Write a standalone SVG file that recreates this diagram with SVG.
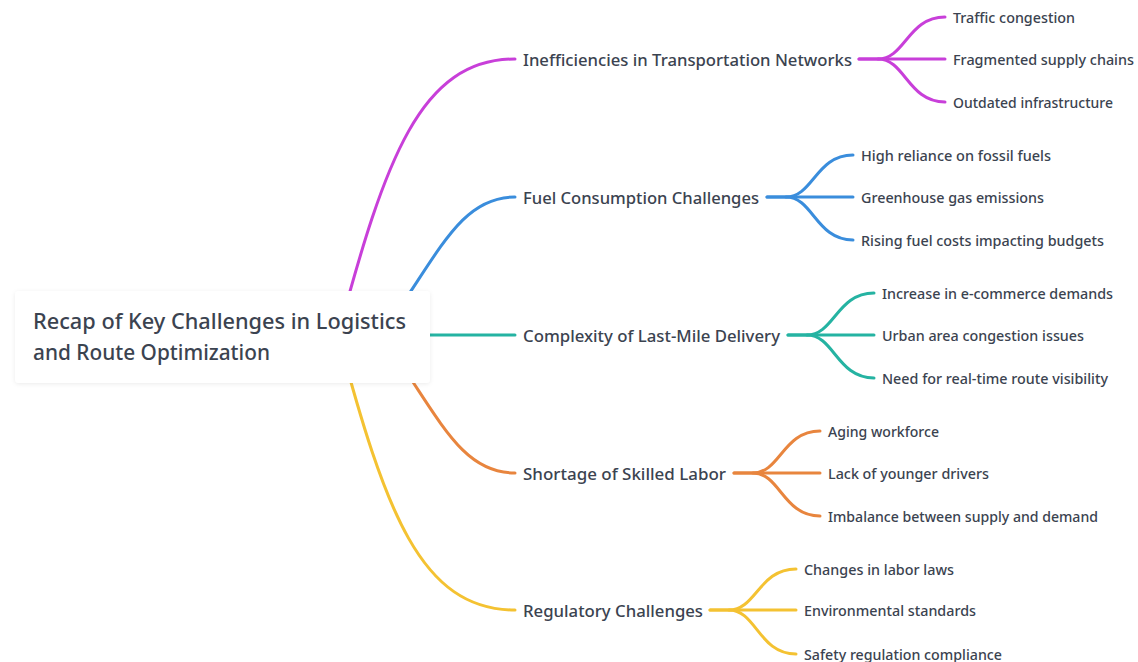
<svg xmlns="http://www.w3.org/2000/svg" width="1138" height="662" viewBox="0 0 1138 662">
<defs>
<style>
.t1{font-family:"Noto Sans","Liberation Sans",sans-serif;font-size:17px;font-weight:500;fill:#3b4350}
.t2{font-family:"Noto Sans","Liberation Sans",sans-serif;font-size:14px;font-weight:500;fill:#3b4350}
.t0{font-family:"Noto Sans","Liberation Sans",sans-serif;font-size:21px;font-weight:500;fill:#3b4350}
.c{fill:none;stroke-width:3;stroke-linecap:round}
.m{stroke:#c83fd9}.b{stroke:#3a8ddc}.g{stroke:#25b3a2}.o{stroke:#e8853e}.y{stroke:#f4c232}
</style>
<filter id="sh" x="-10%" y="-20%" width="120%" height="150%"><feDropShadow dx="0" dy="1" stdDeviation="2" flood-color="#000" flood-opacity="0.08"/></filter>
</defs>
<rect width="1138" height="662" fill="#ffffff"/>
<g id="connectors">
<path class="c m" d="M338 335 C385 160 420 59 515 59"/>
<path class="c b" d="M405 300 C445 240 467 197 515 197"/>
<path class="c g" d="M420 335 L515 335"/>
<path class="c o" d="M405 370 C445 430 467 473 515 473"/>
<path class="c y" d="M338 335 C385 510 420 610 515 610"/>

<path class="c m" d="M859 59 L878 59 C905 59 908 17 945 17"/>
<path class="c m" d="M859 59 L945 59"/>
<path class="c m" d="M878 59 C905 59 908 102 945 102"/>

<path class="c b" d="M767 197 L786 197 C813 197 816 155 853 155"/>
<path class="c b" d="M767 197 L853 197"/>
<path class="c b" d="M786 197 C813 197 816 240 853 240"/>

<path class="c g" d="M788 335 L807 335 C834 335 837 293 874 293"/>
<path class="c g" d="M788 335 L874 335"/>
<path class="c g" d="M807 335 C834 335 837 378 874 378"/>

<path class="c o" d="M734 473 L753 473 C780 473 783 431 820 431"/>
<path class="c o" d="M734 473 L820 473"/>
<path class="c o" d="M753 473 C780 473 783 516 820 516"/>

<path class="c y" d="M710 610 L729 610 C756 610 759 569 796 569"/>
<path class="c y" d="M710 610 L796 610"/>
<path class="c y" d="M729 610 C756 610 759 654 796 654"/>
</g>
<g id="root">
<rect x="15" y="291" width="415" height="92" rx="4" fill="#ffffff" filter="url(#sh)"/>
<text class="t0" x="33" y="329" textLength="373" lengthAdjust="spacingAndGlyphs">Recap of Key Challenges in Logistics</text>
<text class="t0" x="33" y="360" textLength="237" lengthAdjust="spacingAndGlyphs">and Route Optimization</text>
</g>
<g id="n1"><text class="t1" x="523" y="66" textLength="329" lengthAdjust="spacingAndGlyphs">Inefficiencies in Transportation Networks</text></g>
<g id="n1a"><text class="t2" x="953" y="23" textLength="122" lengthAdjust="spacingAndGlyphs">Traffic congestion</text></g>
<g id="n1b"><text class="t2" x="953" y="65" textLength="181" lengthAdjust="spacingAndGlyphs">Fragmented supply chains</text></g>
<g id="n1c"><text class="t2" x="953" y="108" textLength="160" lengthAdjust="spacingAndGlyphs">Outdated infrastructure</text></g>

<g id="n2"><text class="t1" x="523" y="204" textLength="236" lengthAdjust="spacingAndGlyphs">Fuel Consumption Challenges</text></g>
<g id="n2a"><text class="t2" x="861" y="161" textLength="190" lengthAdjust="spacingAndGlyphs">High reliance on fossil fuels</text></g>
<g id="n2b"><text class="t2" x="861" y="203" textLength="183" lengthAdjust="spacingAndGlyphs">Greenhouse gas emissions</text></g>
<g id="n2c"><text class="t2" x="861" y="246" textLength="243" lengthAdjust="spacingAndGlyphs">Rising fuel costs impacting budgets</text></g>

<g id="n3"><text class="t1" x="523" y="342" textLength="257" lengthAdjust="spacingAndGlyphs">Complexity of Last-Mile Delivery</text></g>
<g id="n3a"><text class="t2" x="882" y="299" textLength="231" lengthAdjust="spacingAndGlyphs">Increase in e-commerce demands</text></g>
<g id="n3b"><text class="t2" x="882" y="341" textLength="202" lengthAdjust="spacingAndGlyphs">Urban area congestion issues</text></g>
<g id="n3c"><text class="t2" x="882" y="384" textLength="226" lengthAdjust="spacingAndGlyphs">Need for real-time route visibility</text></g>

<g id="n4"><text class="t1" x="523" y="480" textLength="203" lengthAdjust="spacingAndGlyphs">Shortage of Skilled Labor</text></g>
<g id="n4a"><text class="t2" x="828" y="437" textLength="111" lengthAdjust="spacingAndGlyphs">Aging workforce</text></g>
<g id="n4b"><text class="t2" x="828" y="479" textLength="161" lengthAdjust="spacingAndGlyphs">Lack of younger drivers</text></g>
<g id="n4c"><text class="t2" x="828" y="522" textLength="270" lengthAdjust="spacingAndGlyphs">Imbalance between supply and demand</text></g>

<g id="n5"><text class="t1" x="523" y="617" textLength="180" lengthAdjust="spacingAndGlyphs">Regulatory Challenges</text></g>
<g id="n5a"><text class="t2" x="804" y="575" textLength="150" lengthAdjust="spacingAndGlyphs">Changes in labor laws</text></g>
<g id="n5b"><text class="t2" x="804" y="616" textLength="172" lengthAdjust="spacingAndGlyphs">Environmental standards</text></g>
<g id="n5c"><text class="t2" x="804" y="660" textLength="198" lengthAdjust="spacingAndGlyphs">Safety regulation compliance</text></g>
</svg>
